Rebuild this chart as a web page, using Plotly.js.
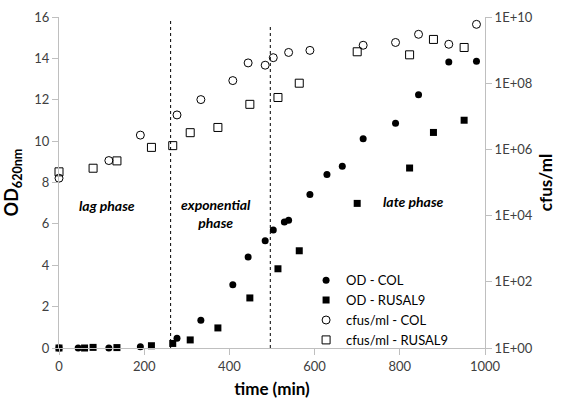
<!DOCTYPE html>
<html>
<head>
<meta charset="utf-8">
<script src="https://cdn.plot.ly/plotly-3.0.1.min.js"></script>
<style>html,body{margin:0;padding:0;background:#fff;}#chart{width:567px;height:399px;}</style>
</head>
<body>
<div id="chart"></div>
<script>
// OD 620nm - COL
const odColTime = [0, 45, 117, 191, 277, 333, 408, 444, 484, 503, 529, 539, 589, 629, 665, 714, 790, 844, 915, 980];
const odColVal  = [0, 0.0, 0.0, 0.06, 0.47, 1.34, 3.06, 4.4, 5.18, 5.7, 6.09, 6.18, 7.42, 8.39, 8.79, 10.11, 10.87, 12.24, 13.82, 13.86];
// OD 620nm - RUSAL9
const odRusTime = [0, 60, 80, 136, 217, 267, 308, 373, 448, 514, 564, 700, 823, 879, 951];
const odRusVal  = [0, 0.0, 0.03, 0.02, 0.11, 0.22, 0.39, 0.97, 2.42, 3.83, 4.7, 6.99, 8.7, 10.42, 11.01];
// cfus/ml - COL
const cfuColTime = [0, 117, 191, 277, 333, 408, 444, 484, 503, 539, 589, 714, 790, 844, 915, 980];
const cfuColVal  = [1.35e5, 4.6e5, 2.7e6, 1.1e7, 3.2e7, 1.2e8, 4.1e8, 3.5e8, 5.9e8, 8.5e8, 9.8e8, 1.4e9, 1.7e9, 3.0e9, 1.5e9, 6.0e9];
// cfus/ml - RUSAL9
const cfuRusTime = [0, 80, 136, 217, 267, 308, 373, 448, 514, 564, 700, 823, 879, 951];
const cfuRusVal  = [2.1e5, 2.7e5, 4.5e5, 1.15e6, 1.3e6, 3.2e6, 4.6e6, 2.3e7, 3.7e7, 1.0e8, 8.9e8, 7.2e8, 2.1e9, 1.2e9];
// phase boundaries (min)
const phaseBounds = [262, 496];
const phaseLabels = ["lag phase", "exponential<br>phase", "late phase"];
// tick labels
const y2TickVals = [1, 1e2, 1e4, 1e6, 1e8, 1e10];
const y2TickText = ["1E+00", "1E+02", "1E+04", "1E+06", "1E+08", "1E+10"];

const FONT = "Lato, 'Open Sans', sans-serif";
const ink = "#000";
const traces = [
  {x: odColTime, y: odColVal, name: "OD - COL", mode: "markers", type: "scatter", cliponaxis: false,
   marker: {symbol: "circle", size: 7, color: ink}},
  {x: odRusTime, y: odRusVal, name: "OD - RUSAL9", mode: "markers", type: "scatter", cliponaxis: false,
   marker: {symbol: "square", size: 7, color: ink}},
  {x: cfuColTime, y: cfuColVal, name: "cfus/ml - COL", mode: "markers", type: "scatter", yaxis: "y2", cliponaxis: false,
   marker: {symbol: "circle-open", size: 8, color: ink, line: {width: 1, color: ink}}},
  {x: cfuRusTime, y: cfuRusVal, name: "cfus/ml - RUSAL9", mode: "markers", type: "scatter", yaxis: "y2", cliponaxis: false,
   marker: {symbol: "square-open", size: 8, color: ink, line: {width: 1, color: ink}}}
];

const axisGrey = "#bfbfbf";
const tickFont = {family: FONT, size: 13, color: "#404040"};
const layout = {
  width: 567, height: 399,
  margin: {l: 59, r: 82, t: 17, b: 51, pad: 0},
  paper_bgcolor: "#fff", plot_bgcolor: "#fff",
  font: {family: FONT, size: 13, color: "#000"},
  showlegend: true,
  legend: {x: 0.58, y: 0.25, xanchor: "left", yanchor: "top", bgcolor: "rgba(0,0,0,0)",
           font: {family: FONT, size: 13, color: "#000"}, itemwidth: 30, tracegroupgap: 0},
  xaxis: {range: [0, 1000], tickvals: [0, 200, 400, 600, 800, 1000], showgrid: false, zeroline: false,
          showline: true, linecolor: axisGrey, linewidth: 1, ticks: "outside", ticklen: 6, tickcolor: axisGrey,
          tickfont: tickFont,
          title: {text: "<b>time (min)</b>", font: {family: FONT, size: 17, color: "#000"}}},
  yaxis: {range: [0, 16], dtick: 2, showgrid: false, zeroline: false,
          showline: true, linecolor: axisGrey, linewidth: 1, ticks: "outside", ticklen: 6, tickcolor: axisGrey,
          tickfont: tickFont,
          title: {text: "<b>OD<sub>620nm</sub></b>", font: {family: FONT, size: 18, color: "#000"}}},
  yaxis2: {type: "log", range: [0, 10], overlaying: "y", side: "right", tickvals: y2TickVals, ticktext: y2TickText,
           showgrid: false, zeroline: false, showline: true, linecolor: axisGrey, linewidth: 1,
           ticks: "outside", ticklen: 6, tickcolor: axisGrey, tickfont: tickFont,
           title: {text: "<b>cfus/ml</b>", font: {family: FONT, size: 17, color: "#000"}}},
  shapes: [
    {type: "line", xref: "x", yref: "y", x0: phaseBounds[0], x1: phaseBounds[0], y0: 0, y1: 15.85,
     line: {color: "#000", width: 1, dash: "dot"}},
    {type: "line", xref: "x", yref: "y", x0: phaseBounds[1], x1: phaseBounds[1], y0: 0, y1: 15.6,
     line: {color: "#000", width: 1, dash: "dot"}}
  ],
  annotations: [
    {xref: "x", yref: "y", x: 113, y: 6.9, text: "<b><i>" + phaseLabels[0] + "</i></b>", showarrow: false,
     font: {family: FONT, size: 14, color: "#000"}},
    {xref: "x", yref: "y", x: 369, y: 6.5, text: "<b><i>" + phaseLabels[1] + "</i></b>", showarrow: false,
     font: {family: FONT, size: 14, color: "#000"}},
    {xref: "x", yref: "y", x: 833, y: 7.1, text: "<b><i>" + phaseLabels[2] + "</i></b>", showarrow: false,
     font: {family: FONT, size: 14, color: "#000"}}
  ]
};
Plotly.newPlot("chart", traces, layout, {displayModeBar: false, staticPlot: true});
</script>
</body>
</html>
